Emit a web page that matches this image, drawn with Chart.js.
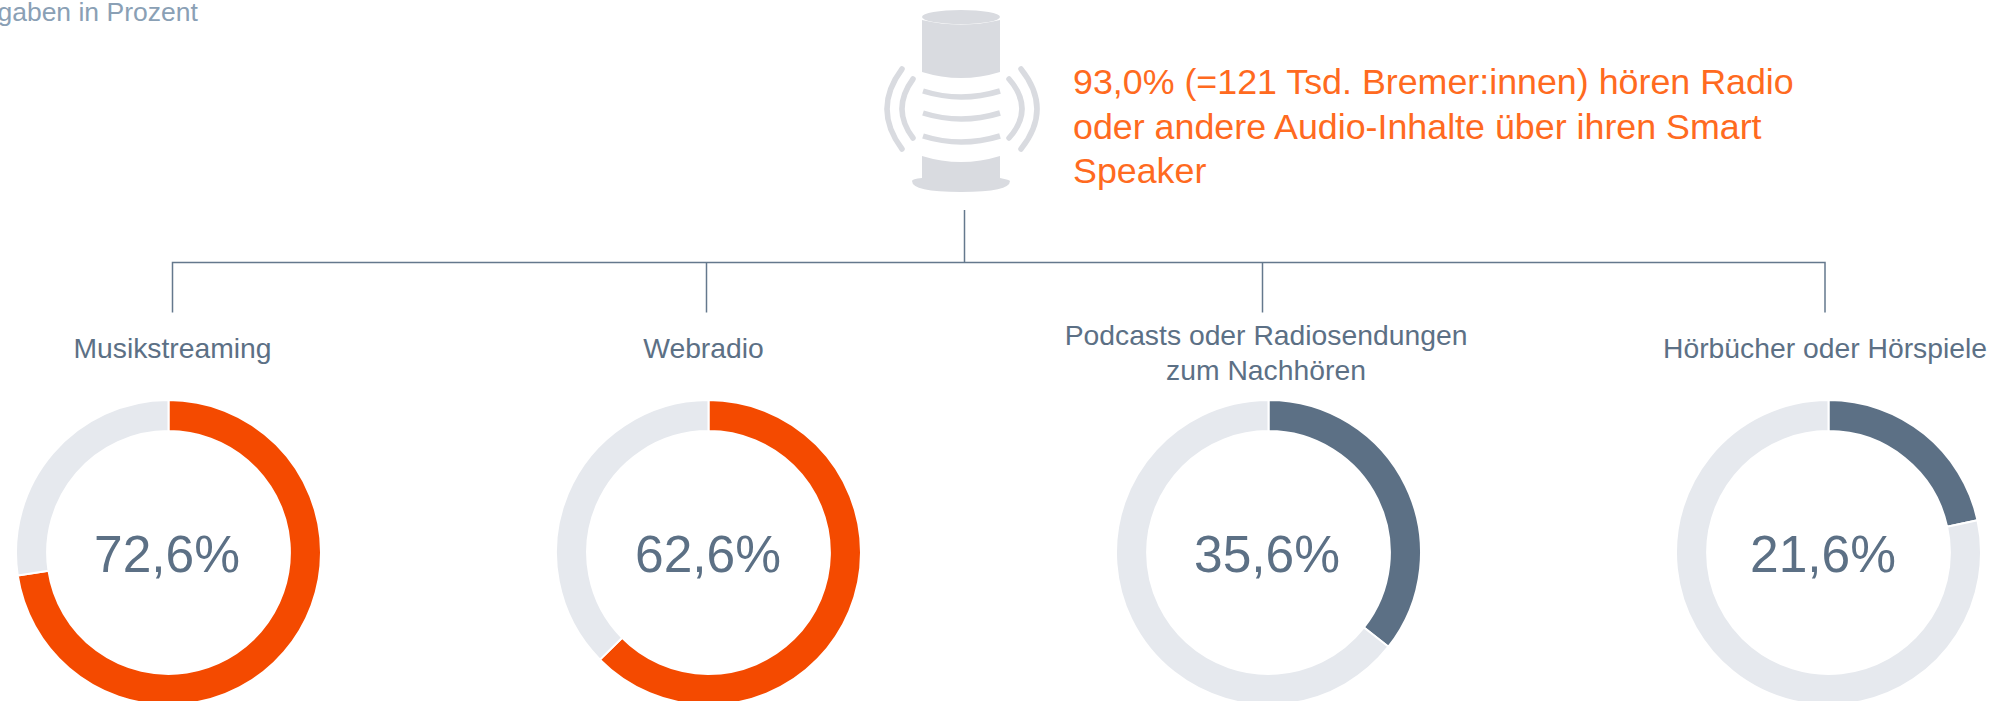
<!DOCTYPE html>
<html lang="de"><head><meta charset="utf-8">
<script src="https://cdn.jsdelivr.net/npm/chart.js@4"></script>
<style>
html,body{margin:0;padding:0;background:#fff;width:1998px;height:701px;overflow:hidden;font-family:"Liberation Sans",Arial,sans-serif}
.t{position:absolute;white-space:nowrap}
.label{color:#5c7085;font-size:28.3px;line-height:35px;text-align:center;transform:translateX(-50%)}
.val{color:#5c7085;font-size:51.5px;line-height:60px;transform:translate(-50%,-50%)}
canvas{position:absolute}
svg{position:absolute;left:0;top:0}
</style></head><body>
<svg width="1998" height="701" id="deco">
  <g fill="#d9dbe0" stroke="none">
    <ellipse cx="961" cy="17" rx="39" ry="7"/>
    <path d="M922 20 Q961 29 1000 20 V72 Q961 84 922 72Z"/>
    <path d="M922 156 Q961 168 1000 156 V178 Q1010 180 1010 181 Q1010 192 961 192 Q912 192 912 181 Q912 179 922 178Z"/>
  </g>
  <g fill="none" stroke="#d9dbe0" stroke-width="5.5">
    <path d="M923 91 Q961 103 1000 91"/>
    <path d="M923 113 Q961 125 1000 113"/>
    <path d="M923 136 Q961 148 1000 136"/>
    <path d="M902 69 Q872 109 902 149" stroke-linecap="round"/>
    <path d="M913 79 Q891 109 913 138" stroke-linecap="round"/>
    <path d="M1021 69 Q1053 109 1021 149" stroke-linecap="round"/>
    <path d="M1009 79 Q1035 109 1009 138" stroke-linecap="round"/>
  </g>
  <g fill="none" stroke="#64788d" stroke-width="1.5">
    <path d="M964.5 210 V262.5"/>
    <path d="M172.5 312.5 V262.5 H1825 V312.5"/>
    <path d="M706.5 262.5 V312.5"/>
    <path d="M1262.5 262.5 V312.5"/>
  </g>
</svg>
<div class="t" style="left:-35px;top:-1px;color:#8aa0b5;font-size:26.5px;line-height:26px">Angaben in Prozent</div>
<div class="t" id="head" style="left:1073px;top:60px;color:#ff6a20;font-size:35.8px;line-height:44.6px"></div>
<div id="root"></div>
<script>
const categories = ["Musikstreaming","Webradio","Podcasts oder Radiosendungen\nzum Nachhören","Hörbücher oder Hörspiele"];
const shares = [72.6, 62.6, 35.6, 21.6];
const shareLabels = ["72,6%","62,6%","35,6%","21,6%"];
const remainders = [27.4, 37.4, 64.4, 78.4];
const sliceColors = ["#f44a00","#f44a00","#5c7085","#5c7085"];
const headlineLines = ["93,0% (=121 Tsd. Bremer:innen) hören Radio","oder andere Audio-Inhalte über ihren Smart","Speaker"];
const centers = [168.5, 708.5, 1268.5, 1828.5];
const valueX = [167, 708, 1267, 1823];
const labelX = [172.5, 703.5, 1266, 1825];
const labelY = [331, 331, 318, 331];
const R = 153.5, CY = 552.5, GREY = "#e6e9ee";

document.getElementById("head").innerHTML = headlineLines.join("<br>");
const root = document.getElementById("root");
categories.forEach((c,i)=>{
  const l=document.createElement("div"); l.className="t label";
  l.style.left=labelX[i]+"px"; l.style.top=labelY[i]+"px";
  l.innerHTML=c.replace("\n","<br>"); root.appendChild(l);
  const cv=document.createElement("canvas");
  cv.width=2*R; cv.height=2*R;
  cv.style.cssText=`left:${centers[i]-R}px;top:${CY-R}px;width:${2*R}px;height:${2*R}px`;
  root.appendChild(cv);
  const v=document.createElement("div"); v.className="t val";
  v.style.left=valueX[i]+"px"; v.style.top=(CY+1)+"px";
  v.textContent=shareLabels[i]; root.appendChild(v);
  new Chart(cv,{type:"doughnut",
    data:{labels:[c.replace("\n"," "),"Rest"],datasets:[{data:[shares[i],remainders[i]],
      backgroundColor:[sliceColors[i],GREY],borderColor:"#fff",borderWidth:2}]},
    options:{responsive:false,animation:false,cutout:"79.6%",rotation:0,
      layout:{padding:0},plugins:{legend:{display:false},tooltip:{enabled:false},title:{display:false}}}});
});
</script>
</body></html>
